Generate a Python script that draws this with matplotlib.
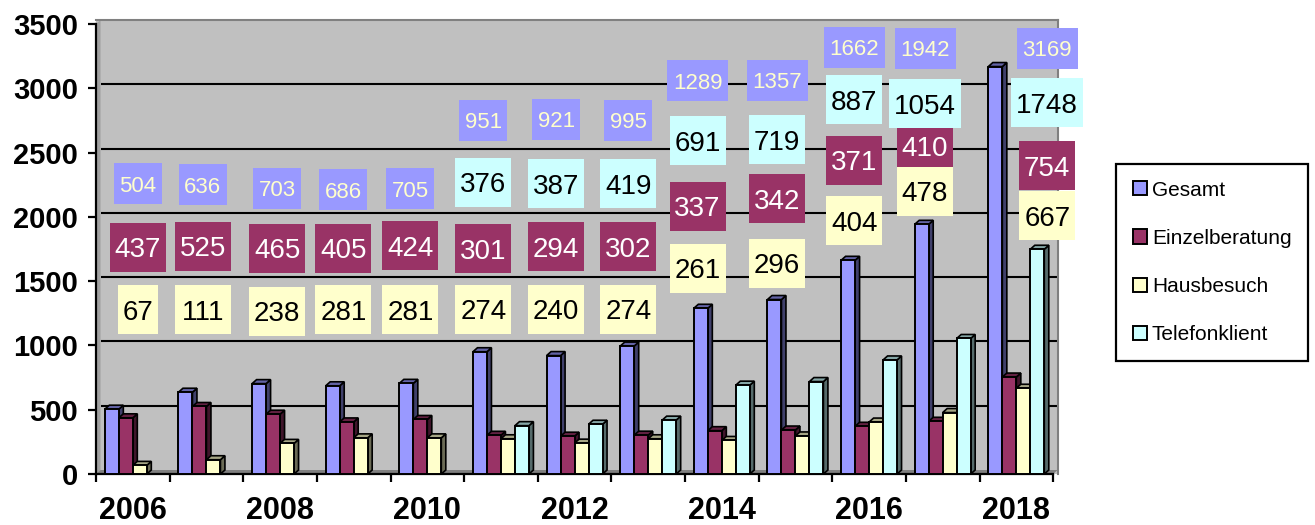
import numpy as np
import matplotlib
matplotlib.use("Agg")
import matplotlib.pyplot as plt
import matplotlib.transforms as mtransforms
from matplotlib.patches import Polygon, Rectangle, Patch

plt.rcParams['font.family'] = ['Liberation Sans', 'DejaVu Sans']

# data
years = list(range(2006, 2019))
series_names = ["Gesamt", "Einzelberatung", "Hausbesuch", "Telefonklient"]
gesamt = [504, 636, 703, 686, 705, 951, 921, 995, 1289, 1357, 1662, 1942, 3169]
einzel = [437, 525, 465, 405, 424, 301, 294, 302, 337, 342, 371, 410, 754]
haus = [67, 111, 238, 281, 281, 274, 240, 274, 261, 296, 404, 478, 667]
telefon = [None, None, None, None, None, 376, 387, 419, 691, 719, 887, 1054, 1748]

# where the data labels sit (category units / value units)
label_x = [0.07, 0.95, 1.96, 2.86, 3.77, 4.76, 5.75, 6.73, 7.67, 8.75, 9.80, 10.76, 12.42]
gesamt_label_y = [2256, 2248, 2224, 2209, 2217, 2753, 2761, 2753, 3057, 3064, 3321, 3313, 3313]
einzel_label_y = [1762, 1770, 1754, 1754, 1777, 1750, 1766, 1766, 2084, 2139, 2442, 2551, 2396]
haus_label_y = [1279, 1279, 1264, 1279, 1279, 1283, 1283, 1283, 1602, 1641, 1968, 2201, 2007]
telefon_label_y = [None, None, None, None, None, 2271, 2256, 2256, 2590, 2598, 2909, 2878, 2886]

colors = ['#9999FF', '#993366', '#FFFFCC', '#CCFFFF']
text_colors = ['#FFFFCC', 'white', 'black', 'black']

fig = plt.figure(figsize=(13.15, 5.25), dpi=100)
ax = fig.add_axes([96 / 1315, 51 / 525, 962 / 1315, 454 / 525])
ax.set_facecolor('#C0C0C0')

n = len(years)
dx = 4.5 / 73.6     # 3d depth in category units
dy = 31.0           # 3d depth in value units
ax.set_xlim(-0.5, 12.5 + dx + 0.005)
ax.set_ylim(0, 3531)

# walls / floor
ax.add_patch(Polygon([(-0.5, 0), (-0.5 + dx, dy), (-0.5 + dx, 3500 + dy), (-0.5, 3500)],
                     closed=True, facecolor='#A0A0A0', edgecolor='none', zorder=0.5))
ax.add_patch(Polygon([(-0.5, 0), (n - 0.5, 0), (n - 0.5 + dx, dy), (-0.5 + dx, dy)],
                     closed=True, facecolor='#808080', edgecolor='none', zorder=0.5))
for v in range(500, 3500, 500):
    ax.hlines(v + dy, -0.5 + dx, n - 0.5 + dx, colors='black', lw=1.5, zorder=1)

# 3d bars
bw = 0.19
x = np.arange(n)
all_series = [gesamt, einzel, haus, telefon]
for j, vals in enumerate(all_series):
    idx = [i for i, v in enumerate(vals) if v is not None]
    hs = [vals[i] for i in idx]
    z = 3 + j * 0.1
    bars = ax.bar(x[idx] + (j - 1.5) * bw, hs, width=bw, color=colors[j],
                  edgecolor='black', linewidth=1.4, zorder=z + 0.05)
    rgb = np.array(matplotlib.colors.to_rgb(colors[j]))
    for r in bars:
        x0, w, h = r.get_x(), r.get_width(), r.get_height()
        side = [(x0 + w, 0), (x0 + w + dx, dy), (x0 + w + dx, h + dy), (x0 + w, h)]
        top = [(x0, h), (x0 + w, h), (x0 + w + dx, h + dy), (x0 + dx, h + dy)]
        ax.add_patch(Polygon(side, closed=True, facecolor=rgb * 0.42, edgecolor='black',
                             lw=1.2, zorder=z))
        ax.add_patch(Polygon(top, closed=True, facecolor=rgb * 0.65, edgecolor='black',
                             lw=1.2, zorder=z))

# data labels in coloured boxes
label_ys = [gesamt_label_y, einzel_label_y, haus_label_y, telefon_label_y]
label_z = [5, 5, 6, 6]
for j, vals in enumerate(all_series):
    for i, v in enumerate(vals):
        if v is None:
            continue
        s = str(v)
        if j == 0:
            w, h, fs = 9 + 13 * len(s), 41, 16
        else:
            w, h, fs = 8 + 16 * len(s), 49, 20
        trans = fig.dpi_scale_trans + mtransforms.ScaledTranslation(label_x[i], label_ys[j][i], ax.transData)
        ax.add_patch(Rectangle((-w / 200, -h / 200), w / 100, h / 100, transform=trans,
                               facecolor=colors[j], edgecolor='none', clip_on=False,
                               zorder=label_z[j]))
        ax.text(label_x[i], label_ys[j][i], s, ha='center', va='center_baseline',
                fontsize=fs, color=text_colors[j], zorder=label_z[j] + 0.05, clip_on=False)

# axes styling
for s in ['top', 'right']:
    ax.spines[s].set_color('#808080')
    ax.spines[s].set_linewidth(1.5)
ax.spines['left'].set_bounds(0, 3500)
ax.spines['bottom'].set_bounds(-0.5, n - 0.5)
ax.spines['left'].set_linewidth(1.6)
ax.spines['bottom'].set_linewidth(1.6)

ax.set_yticks(range(0, 3501, 500))
ax.tick_params(axis='y', length=6, width=1.6, pad=7, labelsize=21)
for t in ax.get_yticklabels():
    t.set_fontweight('bold')

ax.set_xticks(np.arange(-0.5, n, 1.0), minor=True)
ax.set_xticks([i for i in range(n) if years[i] % 2 == 0])
ax.set_xticklabels([str(years[i]) for i in range(n) if years[i] % 2 == 0],
                   fontsize=22, fontweight='bold')
ax.tick_params(axis='x', which='major', length=0, pad=16)
ax.tick_params(axis='x', which='minor', length=6, width=1.6)

handles = [Patch(facecolor=c, edgecolor='black', linewidth=1.4, label=nm)
           for c, nm in zip(colors, series_names)]
leg = fig.legend(handles=handles, loc='upper left', bbox_to_anchor=(1116 / 1315, 1 - 164 / 525),
                 bbox_transform=fig.transFigure, borderaxespad=0, frameon=True, fancybox=False,
                 edgecolor='black', fontsize=15, handlelength=0.67, handleheight=0.67,
                 handletextpad=0.25, labelspacing=1.4, borderpad=0.8)
leg.get_frame().set_linewidth(1.6)
leg.get_frame().set_alpha(None)

fig.savefig("out.png", dpi=100)
